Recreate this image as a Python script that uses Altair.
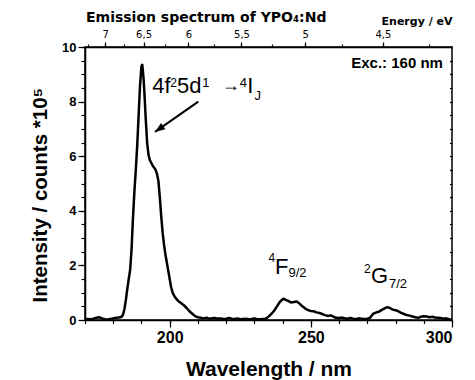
import altair as alt
import pandas as pd

# ---------------- data ----------------
WAVELENGTH = [170, 171, 172, 173, 174, 175, 176, 177, 178, 179, 180, 181, 182, 183, 183.5,
              184, 184.5, 185, 185.5, 186, 186.5, 187, 187.5, 188, 188.5, 189, 189.5, 190, 190.3,
              190.7, 191, 191.5, 192, 192.5, 193, 193.5, 194, 194.5, 195, 195.5, 196, 196.5, 197,
              197.5, 198, 198.5, 199, 199.5, 200, 200.5, 201, 201.5, 202, 203, 204, 205, 206, 207,
              208, 209, 210, 211, 212, 213, 214, 215, 216, 217, 218, 219, 220, 221, 222, 223, 224,
              225, 226, 227, 228, 229, 230, 231, 232, 233, 234, 235, 236, 237, 238, 239, 240, 240.5,
              241, 242, 243, 244, 245, 246, 247, 248, 249, 250, 251, 252, 253, 254, 255, 256, 257,
              258, 259, 260, 261, 262, 263, 264, 265, 266, 267, 268, 269, 270, 271, 272, 273, 274,
              275, 276, 277, 278, 279, 280, 281, 282, 283, 284, 285, 286, 287, 288, 289, 290, 291,
              292, 293, 294, 295, 296, 297, 298, 299, 300]
INTENSITY = [0.03, 0.04, 0.03, 0.05, 0.08, 0.10, 0.06, 0.03, 0.02, 0.04, 0.06, 0.08, 0.09, 0.12, 0.20,
             0.42, 0.75, 1.15, 1.50, 1.85, 2.60, 3.75, 4.70, 5.50, 6.40, 7.50, 8.60, 9.30, 9.35,
             8.90, 8.40, 7.40, 6.50, 6.05, 5.85, 5.75, 5.65, 5.58, 5.50, 5.35, 5.10, 4.50, 3.80,
             3.20, 2.75, 2.40, 2.10, 1.80, 1.50, 1.20, 1.02, 0.90, 0.82, 0.70, 0.62, 0.54, 0.44, 0.32,
             0.23, 0.14, 0.10, 0.08, 0.06, 0.08, 0.05, 0.06, 0.07, 0.05, 0.06, 0.04, 0.05, 0.07, 0.05, 0.04, 0.06,
             0.03, 0.04, 0.05, 0.03, 0.04, 0.06, 0.03, 0.03, 0.04, 0.05, 0.12, 0.22, 0.34, 0.50, 0.66, 0.76, 0.78,
             0.74, 0.70, 0.64, 0.66, 0.68, 0.60, 0.50, 0.42, 0.36, 0.33, 0.32, 0.28, 0.26, 0.22, 0.18, 0.15, 0.17,
             0.12, 0.08, 0.07, 0.09, 0.06, 0.05, 0.07, 0.05, 0.04, 0.06, 0.05, 0.04, 0.05, 0.08, 0.22, 0.27, 0.30,
             0.36, 0.42, 0.47, 0.44, 0.38, 0.36, 0.32, 0.26, 0.22, 0.18, 0.16, 0.13, 0.10, 0.08, 0.12, 0.14, 0.13,
             0.10, 0.12, 0.09, 0.08, 0.07, 0.05, 0.06, 0.03, 0.02]

HC = 1239.84  # eV*nm
NM_MAJOR = [200, 250, 300]
NM_MINOR = list(range(170, 301, 10))
Y_MAJOR = [0, 2, 4, 6, 8, 10]
Y_MINOR = [i * 0.5 for i in range(21)]
EV_MAJOR = [7.0, 6.5, 6.0, 5.5, 5.0, 4.5]
EV_MINOR = [7.25, 7.0, 6.75, 6.5, 6.25, 6.0, 5.75, 5.5, 5.25, 5.0, 4.75, 4.5, 4.25]

TITLE = "Emission spectrum of YPO\u2084:Nd"
X_TITLE = "Wavelength / nm"
Y_TITLE = "Intensity / counts *10\u2075"
TOP_TITLE = "Energy / eV"
EXC_LABEL = "Exc.: 160 nm"

# annotation text pieces (text, x [nm], y [intensity], font size)
ANN_TEXT = ["4f", "2", "5d", "1", "\u2192", "4", "I", "J",
            "4", "F", "9/2",
            "2", "G", "7/2"]
ANN_X = [193.80, 200.20, 202.60, 211.55, 218.40, 224.80, 227.49, 230.08,
         235.00, 237.30, 242.05,
         268.83, 271.31, 277.69]
ANN_Y = [8.30, 8.55, 8.30, 8.55, 8.38, 8.55, 8.30, 8.05,
         2.12, 1.68, 1.58,
         1.71, 1.34, 1.17]
ANN_SIZE = [22, 12, 22, 13, 18, 13, 22, 13,
            12, 22, 13,
            12, 22, 13]

ARROW_FROM = (210.13, 8.0)
ARROW_TO = (194.8, 6.89)
EXC_POS = (296.8, 9.23)

# ---------------- chart ----------------
W, H = 367, 273
spec = pd.DataFrame({"wl": WAVELENGTH, "I": INTENSITY})
ann = pd.DataFrame({"t": ANN_TEXT, "x": ANN_X, "y": ANN_Y, "s": ANN_SIZE})
arrow = pd.DataFrame({"x": [ARROW_FROM[0]], "y": [ARROW_FROM[1]],
                      "x2": [ARROW_TO[0]], "y2": [ARROW_TO[1]]})
exc = pd.DataFrame({"x": [EXC_POS[0]], "y": [EXC_POS[1]], "t": [EXC_LABEL]})

xs = alt.Scale(domain=[170, 300], nice=False, zero=False)
ys = alt.Scale(domain=[0, 10], nice=False)

ev_label = "replace(format(round(1239.84/datum.value*2)/2, '.1~f'), '.', ',')"

bottom_major = alt.Axis(
    orient="bottom", values=NM_MAJOR, tickSize=7,
    labelFont="Liberation Sans", labelFontWeight="bold", labelFontSize=16,
    labelPadding=2, labelColor="black",
    title=X_TITLE, titleFont="Liberation Sans", titleFontWeight="bold", titleFontSize=21,
    titleX=W / 2, titleY=55, titleBaseline="alphabetic", titleAlign="center", titleColor="black",
    grid=False,
)
bottom_minor = alt.Axis(orient="bottom", values=NM_MINOR, tickSize=3.5, labels=False,
                        domain=False, title=None, grid=False)
left_major = alt.Axis(
    orient="left", values=Y_MAJOR, tickSize=7,
    labelFont="Liberation Sans", labelFontWeight="bold", labelFontSize=13,
    labelPadding=2, labelColor="black",
    title=Y_TITLE, titleFont="Liberation Sans", titleFontWeight="bold", titleFontSize=20.5,
    titleAngle=270, titleX=-38.5, titleY=255, titleAlign="left", titleBaseline="alphabetic",
    titleColor="black", grid=False,
)
left_minor = alt.Axis(orient="left", values=Y_MINOR, tickSize=4, labels=False,
                      domain=False, title=None, grid=False)
right_inner = alt.Axis(orient="left", offset=-W, values=Y_MINOR, tickSize=2.5, labels=False,
                       domain=False, title=None, grid=False)
top_major = alt.Axis(
    orient="top", values=[HC / e for e in EV_MAJOR], tickSize=5,
    labelExpr=ev_label,
    labelFont="DejaVu Sans", labelFontSize=10, labelPadding=3, labelColor="black",
    title=TOP_TITLE, titleFont="DejaVu Sans", titleFontWeight="bold", titleFontSize=11,
    titleX=W, titleY=-23, titleAlign="right", titleBaseline="alphabetic", titleColor="black",
    grid=False,
)
top_minor = alt.Axis(orient="top", values=[HC / e for e in EV_MINOR], tickSize=3, labels=False,
                     domain=False, title=None, grid=False)


def axis_layer(xaxis, yaxis):
    return alt.Chart(spec).mark_line(opacity=0).encode(
        x=alt.X("wl:Q", scale=xs, axis=xaxis),
        y=alt.Y("I:Q", scale=ys, axis=yaxis),
    )


line = alt.Chart(spec).mark_line(color="black", strokeWidth=2.5, strokeJoin="round").encode(
    x=alt.X("wl:Q", scale=xs, axis=bottom_major),
    y=alt.Y("I:Q", scale=ys, axis=left_major),
)
ax2 = axis_layer(bottom_minor, left_minor)
ax3 = axis_layer(top_major, right_inner)
ax4 = axis_layer(top_minor, None)

arrow_line = alt.Chart(arrow).mark_rule(color="black", strokeWidth=2).encode(
    x=alt.X("x:Q", scale=xs, axis=None), y=alt.Y("y:Q", scale=ys, axis=None),
    x2="x2:Q", y2="y2:Q",
)
arrow_head = alt.Chart(arrow).mark_point(
    shape="M0,0L0.38,1L-0.38,1Z", filled=True, size=400, angle=235,
    color="black", opacity=1, strokeWidth=0,
).encode(
    x=alt.X("x2:Q", scale=xs, axis=None), y=alt.Y("y2:Q", scale=ys, axis=None),
)
ann_text = alt.Chart(ann).mark_text(
    font="Liberation Sans", align="left", baseline="alphabetic", color="black",
).encode(
    x=alt.X("x:Q", scale=xs, axis=None), y=alt.Y("y:Q", scale=ys, axis=None),
    text="t:N", size=alt.Size("s:Q", scale=None, legend=None),
)
exc_text = alt.Chart(exc).mark_text(
    font="Liberation Sans", fontWeight="bold", fontSize=15, align="right",
    baseline="alphabetic", color="black",
).encode(
    x=alt.X("x:Q", scale=xs, axis=None), y=alt.Y("y:Q", scale=ys, axis=None), text="t:N",
)

chart = alt.layer(line, ax2, ax3, ax4, arrow_line, arrow_head, ann_text, exc_text).resolve_axis(
    x="independent", y="independent"
).properties(
    width=W, height=H,
    padding={"left": 85, "top": 47, "right": 23, "bottom": 60},
    autosize=alt.AutoSizeParams(type="none"),
    title=alt.TitleParams(TITLE, anchor="start", frame="group", font="DejaVu Sans",
                          fontSize=14, fontWeight="bold", color="black", offset=2, dx=1, dy=12),
).configure_view(stroke="black", strokeWidth=1.5).configure_axis(
    domainColor="black", domainWidth=1.5, tickColor="black", tickWidth=1.2,
)

chart.save("out.html", embed_options={"renderer": "svg", "actions": False})
